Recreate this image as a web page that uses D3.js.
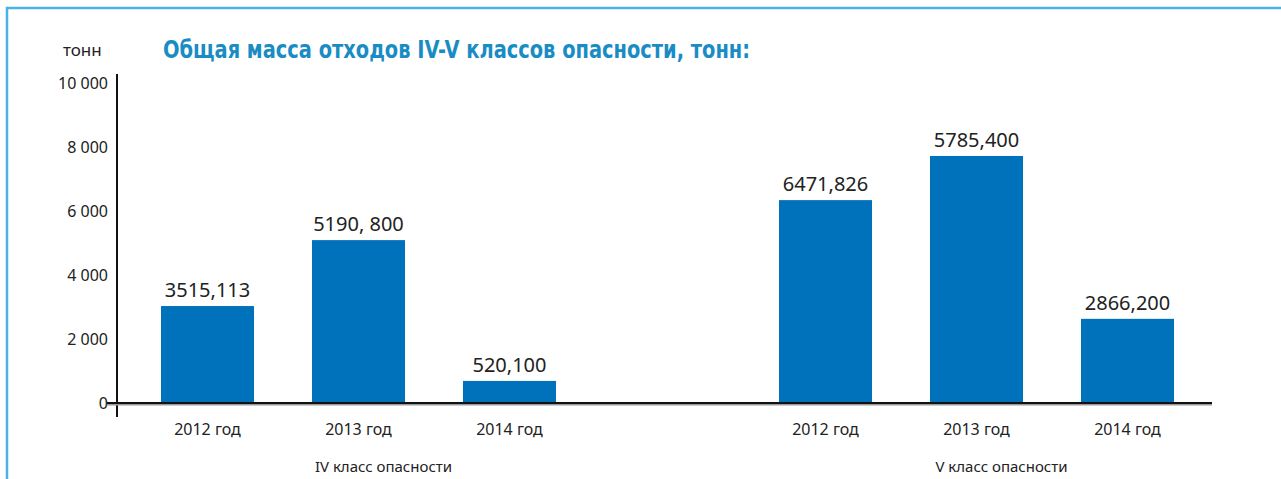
<!DOCTYPE html>
<html>
<head>
<meta charset="utf-8">
<script src="https://cdn.jsdelivr.net/npm/d3@7"></script>
<style>
	body { margin: 0; background: #fff; }
	svg text { font-family: "Noto Sans", "Open Sans", sans-serif; fill: #222; }
</style>
</head>
<body>
<div id="chart"></div>
<script>
const groups = ["IV класс опасности", "V класс опасности"];
const years = ["2012 год", "2013 год", "2014 год"];
// bar heights as drawn in the picture (they do not follow the printed labels)
const classIV = [3030, 5090, 690];
const classV = [6340, 7720, 2630];
const labelsIV = ["3515,113", "5190, 800", "520,100"];
const labelsV = ["6471,826", "5785,400", "2866,200"];
const yTickValues = [0, 2000, 4000, 6000, 8000, 10000];

const width = 1281;
const height = 479;

const rows = [];
groups.forEach((g, gi) => {
	const vals = gi === 0 ? classIV : classV;
	const labs = gi === 0 ? labelsIV : labelsV;
	years.forEach((y, yi) => rows.push({ group: g, year: y, value: vals[yi], label: labs[yi] }));
});

const svg = d3.select("#chart")
	.append("svg")
	.attr("width", width)
	.attr("height", height);

// light blue frame (top and left edges)
svg.append("path")
	.attr("d", `M7,${height} V8 H${width}`)
	.attr("fill", "none")
	.attr("stroke", "#4bb2e5")
	.attr("stroke-width", 2.5);

const yScale = d3.scaleLinear().domain([0, 10000]).range([403, 83]);

const x0 = d3.scaleBand()
	.domain(groups)
	.range([132, 1203])
	.paddingInner(0.267);

const x1 = d3.scaleBand()
	.domain(years)
	.range([0, x0.bandwidth()])
	.paddingInner(0.384)
	.paddingOuter(0.192);

// title
svg.append("text")
	.attr("x", 163)
	.attr("y", 58)
	.attr("textLength", 587)
	.attr("lengthAdjust", "spacingAndGlyphs")
	.style("font-family", "'DejaVu Sans Condensed', 'Liberation Sans Narrow', sans-serif")
	.style("font-weight", "bold")
	.style("font-size", "24px")
	.style("fill", "#1a8cc4")
	.text("Общая масса отходов IV-V классов опасности, тонн:");

svg.append("text")
	.attr("x", 63)
	.attr("y", 56)
	.style("font-size", "17px")
	.text("тонн");

// y axis
const yAxis = d3.axisLeft(yScale)
	.tickValues(yTickValues)
	.tickSize(0)
	.tickPadding(9)
	.tickFormat(d => d3.format(",")(d).replace(/,/g, " "));

const yg = svg.append("g")
	.attr("class", "y-axis")
	.attr("transform", "translate(117,0)")
	.call(yAxis);
yg.select(".domain").remove();
yg.selectAll("text")
	.style("font-size", "16px")
	.style("fill", "#222");

svg.append("line")
	.attr("x1", 117).attr("x2", 117)
	.attr("y1", 74).attr("y2", 417)
	.attr("stroke", "#111")
	.attr("stroke-width", 2);

// bars
svg.append("g")
	.selectAll("rect")
	.data(rows)
	.join("rect")
	.attr("x", d => x0(d.group) + x1(d.year))
	.attr("width", x1.bandwidth())
	.attr("y", d => yScale(d.value))
	.attr("height", d => yScale(0) - yScale(d.value))
	.attr("fill", "#0071bb");

// value labels
svg.append("g")
	.selectAll("text")
	.data(rows)
	.join("text")
	.attr("x", d => x0(d.group) + x1(d.year) + x1.bandwidth() / 2)
	.attr("y", d => yScale(d.value) - 9)
	.attr("text-anchor", "middle")
	.style("font-size", "20px")
	.text(d => d.label);

// x axis baseline with soft shadow
svg.append("line")
	.attr("x1", 107).attr("x2", 1212)
	.attr("y1", yScale(0) + 1.5).attr("y2", yScale(0) + 1.5)
	.attr("stroke", "#9a9a9a")
	.attr("stroke-width", 2);
svg.append("line")
	.attr("x1", 107).attr("x2", 1212)
	.attr("y1", yScale(0)).attr("y2", yScale(0))
	.attr("stroke", "#111")
	.attr("stroke-width", 2);

// year labels
svg.append("g")
	.selectAll("text")
	.data(rows)
	.join("text")
	.attr("x", d => x0(d.group) + x1(d.year) + x1.bandwidth() / 2)
	.attr("y", 435)
	.attr("text-anchor", "middle")
	.style("font-size", "16px")
	.text(d => d.year);

// group labels
svg.append("g")
	.selectAll("text")
	.data(groups)
	.join("text")
	.attr("x", d => x0(d) + x0.bandwidth() / 2 + 25)
	.attr("y", 472)
	.attr("text-anchor", "middle")
	.style("font-size", "15px")
	.text(d => d);
</script>
</body>
</html>
